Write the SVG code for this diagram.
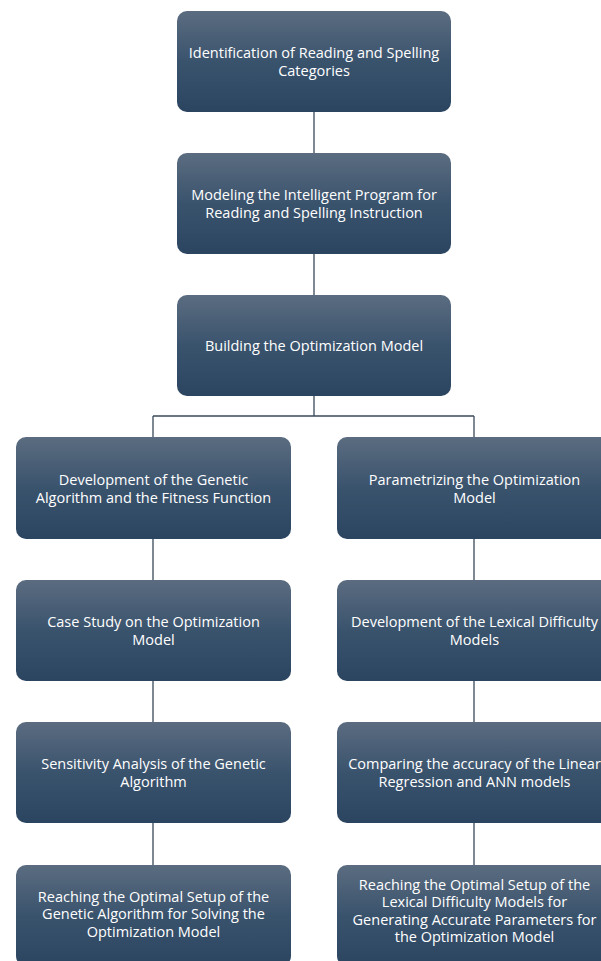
<svg xmlns="http://www.w3.org/2000/svg" width="601" height="961" viewBox="0 0 601 961">
<defs>
<linearGradient id="g" x1="0" y1="0" x2="0" y2="1">
<stop offset="0" stop-color="#5b6c80"/>
<stop offset="0.5" stop-color="#3a536d"/>
<stop offset="1" stop-color="#2b4460"/>
</linearGradient>
<style>
.box{fill:url(#g);}
.t{font-family:"Open Sans","Liberation Sans",sans-serif;font-size:14.5px;fill:#ffffff;text-anchor:middle;}
.c{stroke:#3b4a5a;stroke-width:1.3;fill:none;}
</style>
</defs>
<rect width="601" height="961" fill="#ffffff"/>
<g id="connectors">
<path class="c" d="M314 112V153M314 254V295M314 396V416M153 416H474M153 416V437M474 416V437M153 539V580M153 681V722M153 823V865M474 539V580M474 681V722M474 823V865"/>
</g>
<g id="n1"><rect class="box" x="177" y="11" width="274" height="101" rx="10"/>
<text class="t" x="314" y="58">Identification of Reading and Spelling</text><text class="t" x="314" y="76">Categories</text></g>
<g id="n2"><rect class="box" x="177" y="153" width="274" height="101" rx="10"/>
<text class="t" x="314" y="200">Modeling the Intelligent Program for</text><text class="t" x="314" y="218">Reading and Spelling Instruction</text></g>
<g id="n3"><rect class="box" x="177" y="295" width="274" height="101" rx="10"/>
<text class="t" x="314" y="350.5">Building the Optimization Model</text></g>
<g id="n4"><rect class="box" x="16" y="437" width="275" height="102" rx="10"/>
<text class="t" x="153.5" y="485">Development of the Genetic</text><text class="t" x="153.5" y="503">Algorithm and the Fitness Function</text></g>
<g id="n5"><rect class="box" x="16" y="580" width="275" height="101" rx="10"/>
<text class="t" x="153.5" y="627">Case Study on the Optimization</text><text class="t" x="153.5" y="645">Model</text></g>
<g id="n6"><rect class="box" x="16" y="722" width="275" height="101" rx="10"/>
<text class="t" x="153.5" y="769">Sensitivity Analysis of the Genetic</text><text class="t" x="153.5" y="787">Algorithm</text></g>
<g id="n7"><rect class="box" x="16" y="865" width="275" height="101" rx="10"/>
<text class="t" x="153.5" y="901.5">Reaching the Optimal Setup of the</text><text class="t" x="153.5" y="919.3">Genetic Algorithm for Solving the</text><text class="t" x="153.5" y="937">Optimization Model</text></g>
<g id="n8"><rect class="box" x="337" y="437" width="275" height="102" rx="10"/>
<text class="t" x="474.5" y="485">Parametrizing the Optimization</text><text class="t" x="474.5" y="503">Model</text></g>
<g id="n9"><rect class="box" x="337" y="580" width="275" height="101" rx="10"/>
<text class="t" x="474.5" y="627">Development of the Lexical Difficulty</text><text class="t" x="474.5" y="645">Models</text></g>
<g id="n10"><rect class="box" x="337" y="722" width="275" height="101" rx="10"/>
<text class="t" x="474.5" y="769">Comparing the accuracy of the Linear</text><text class="t" x="474.5" y="787">Regression and ANN models</text></g>
<g id="n11"><rect class="box" x="337" y="865" width="275" height="101" rx="10"/>
<text class="t" x="474.5" y="889.5">Reaching the Optimal Setup of the</text><text class="t" x="474.5" y="907">Lexical Difficulty Models for</text><text class="t" x="474.5" y="924.5">Generating Accurate Parameters for</text><text class="t" x="474.5" y="942">the Optimization Model</text></g>
</svg>
